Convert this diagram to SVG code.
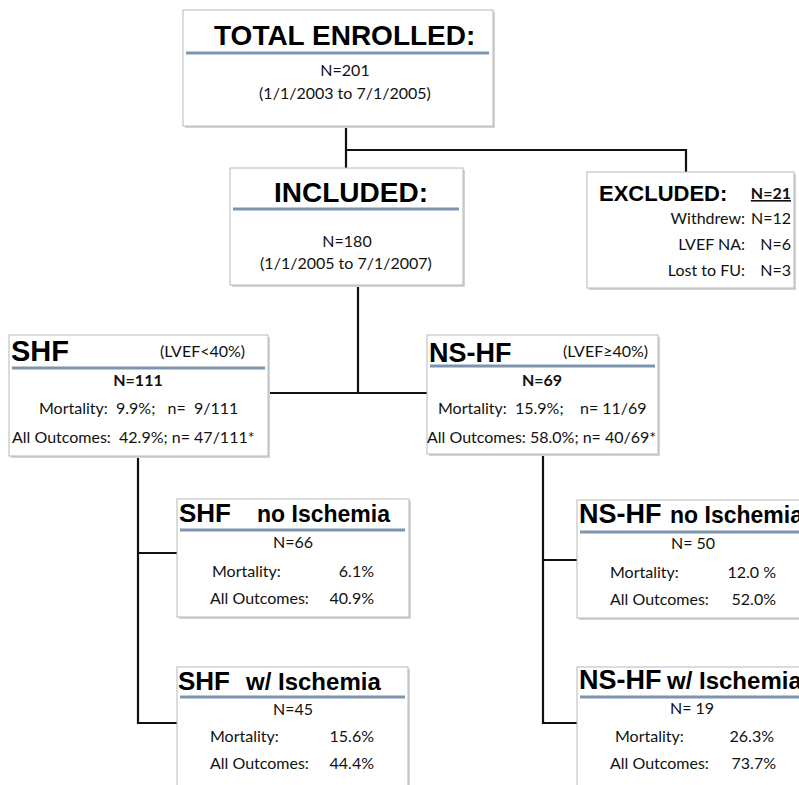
<svg xmlns="http://www.w3.org/2000/svg" width="799" height="785" viewBox="0 0 799 785">
<style>
.sh{fill:#d4d4d4}
.bx{fill:#fff;stroke:#b8b8b8;stroke-width:1}
.ul{stroke:#7d94ae;stroke-width:3}
.ttl{font-family:"Liberation Sans",Arial,sans-serif;font-weight:bold;fill:#000}
.t{font-family:Lato,"Open Sans",sans-serif;font-size:16px;fill:#111}
.b{font-weight:bold}
.m{text-anchor:middle}
.e{text-anchor:end}
.cn{fill:none;stroke:#111;stroke-width:2.2}
</style>
<g id="connectors">
<path class="cn" d="M346,126 V150 H686 V172"/>
<path class="cn" d="M346,150 V168"/>
<path class="cn" d="M358,285 V393"/>
<path class="cn" d="M268,393 H427"/>
<path class="cn" d="M138,456 V723 H177"/>
<path class="cn" d="M138,553 H177"/>
<path class="cn" d="M543,454 V723 H577"/>
<path class="cn" d="M543,560 H577"/>
</g>
<g id="total">
<rect class="sh" x="185" y="12" width="310" height="116"/>
<rect class="bx" x="183" y="10" width="310" height="116"/>
<text class="ttl" x="214" y="45" font-size="28">TOTAL ENROLLED:</text>
<line class="ul" x1="186" y1="53" x2="489" y2="53"/>
<text class="t m" x="345" y="76">N=201</text>
<text class="t m" x="345" y="99">(1/1/2003 to 7/1/2005)</text>
</g>
<g id="included">
<rect class="sh" x="232" y="170" width="233" height="117"/>
<rect class="bx" x="230" y="168" width="233" height="117"/>
<text class="ttl m" x="351" y="202" font-size="28">INCLUDED:</text>
<line class="ul" x1="233" y1="209" x2="459" y2="209"/>
<text class="t m" x="347" y="247">N=180</text>
<text class="t m" x="346" y="269">(1/1/2005 to 7/1/2007)</text>
</g>
<g id="excluded">
<rect class="sh" x="589" y="174" width="207" height="116"/>
<rect class="bx" x="587" y="172" width="207" height="116"/>
<text class="ttl" x="599" y="201" font-size="22">EXCLUDED:</text>
<text class="t e" x="791" y="199" text-decoration="underline" font-weight="bold">N=21</text>
<text class="t e" x="745" y="224">Withdrew:</text>
<text class="t e" x="791" y="224">N=12</text>
<text class="t e" x="745" y="250">LVEF NA:</text>
<text class="t e" x="791" y="250">N=6</text>
<text class="t e" x="745" y="276">Lost to FU:</text>
<text class="t e" x="791" y="276">N=3</text>
</g>
<g id="shf">
<rect class="sh" x="11" y="337" width="259" height="121"/>
<rect class="bx" x="9" y="335" width="259" height="121"/>
<text class="ttl" x="11" y="361" font-size="29">SHF</text>
<text class="t" x="160" y="357" font-size="15">(LVEF&lt;40%)</text>
<line class="ul" x1="12" y1="368" x2="265" y2="368"/>
<text class="t m b" x="138" y="386">N=111</text>
<text class="t" x="39" y="414" xml:space="preserve">Mortality:  9.9%;   n=  9/111</text>
<text class="t" x="12" y="443" xml:space="preserve">All Outcomes:  42.9%; n= 47/111*</text>
</g>
<g id="nshf">
<rect class="sh" x="429" y="337" width="231" height="119"/>
<rect class="bx" x="427" y="335" width="231" height="119"/>
<text class="ttl" x="429" y="362" font-size="27">NS-HF</text>
<text class="t" x="563" y="357" font-size="15">(LVEF≥40%)</text>
<line class="ul" x1="430" y1="366" x2="655" y2="366"/>
<text class="t m b" x="542" y="386">N=69</text>
<text class="t" x="438" y="414" xml:space="preserve">Mortality:  15.9%;    n= 11/69</text>
<text class="t" x="427" y="443" xml:space="preserve">All Outcomes: 58.0%; n= 40/69*</text>
</g>
<g id="shf-no-isch">
<rect class="sh" x="179" y="501" width="232" height="118"/>
<rect class="bx" x="177" y="499" width="232" height="118"/>
<text class="ttl" x="179" y="522" font-size="26">SHF</text>
<text class="ttl" x="257" y="522" font-size="23">no Ischemia</text>
<line class="ul" x1="180" y1="530" x2="405" y2="530"/>
<text class="t m" x="293" y="548">N=66</text>
<text class="t" x="212" y="577">Mortality:</text>
<text class="t e" x="374" y="577">6.1%</text>
<text class="t" x="210" y="604">All Outcomes:</text>
<text class="t e" x="374" y="604">40.9%</text>
</g>
<g id="shf-w-isch">
<rect class="sh" x="179" y="669" width="231" height="125"/>
<rect class="bx" x="177" y="667" width="231" height="125"/>
<text class="ttl" x="178" y="690" font-size="26">SHF</text>
<text class="ttl" x="246" y="690" font-size="24">w/ Ischemia</text>
<line class="ul" x1="180" y1="697" x2="405" y2="697"/>
<text class="t m" x="293" y="715">N=45</text>
<text class="t" x="210" y="742">Mortality:</text>
<text class="t e" x="374" y="742">15.6%</text>
<text class="t" x="210" y="769">All Outcomes:</text>
<text class="t e" x="374" y="769">44.4%</text>
</g>
<g id="nshf-no-isch">
<rect class="sh" x="579" y="502" width="240" height="118"/>
<rect class="bx" x="577" y="500" width="240" height="118"/>
<text class="ttl" x="579" y="523" font-size="27">NS-HF</text>
<text class="ttl" x="670" y="523" font-size="23">no Ischemia</text>
<line class="ul" x1="580" y1="532" x2="800" y2="532"/>
<text class="t m" x="693" y="549">N= 50</text>
<text class="t" x="610" y="578">Mortality:</text>
<text class="t e" x="776" y="578">12.0 %</text>
<text class="t" x="610" y="605">All Outcomes:</text>
<text class="t e" x="776" y="605">52.0%</text>
</g>
<g id="nshf-w-isch">
<rect class="sh" x="579" y="669" width="240" height="125"/>
<rect class="bx" x="577" y="667" width="240" height="125"/>
<text class="ttl" x="579" y="689" font-size="27">NS-HF</text>
<text class="ttl" x="667" y="689" font-size="24">w/ Ischemia</text>
<line class="ul" x1="580" y1="697" x2="800" y2="697"/>
<text class="t m" x="692" y="714">N= 19</text>
<text class="t" x="615" y="742">Mortality:</text>
<text class="t e" x="774" y="742">26.3%</text>
<text class="t" x="610" y="769">All Outcomes:</text>
<text class="t e" x="776" y="769">73.7%</text>
</g>
</svg>
